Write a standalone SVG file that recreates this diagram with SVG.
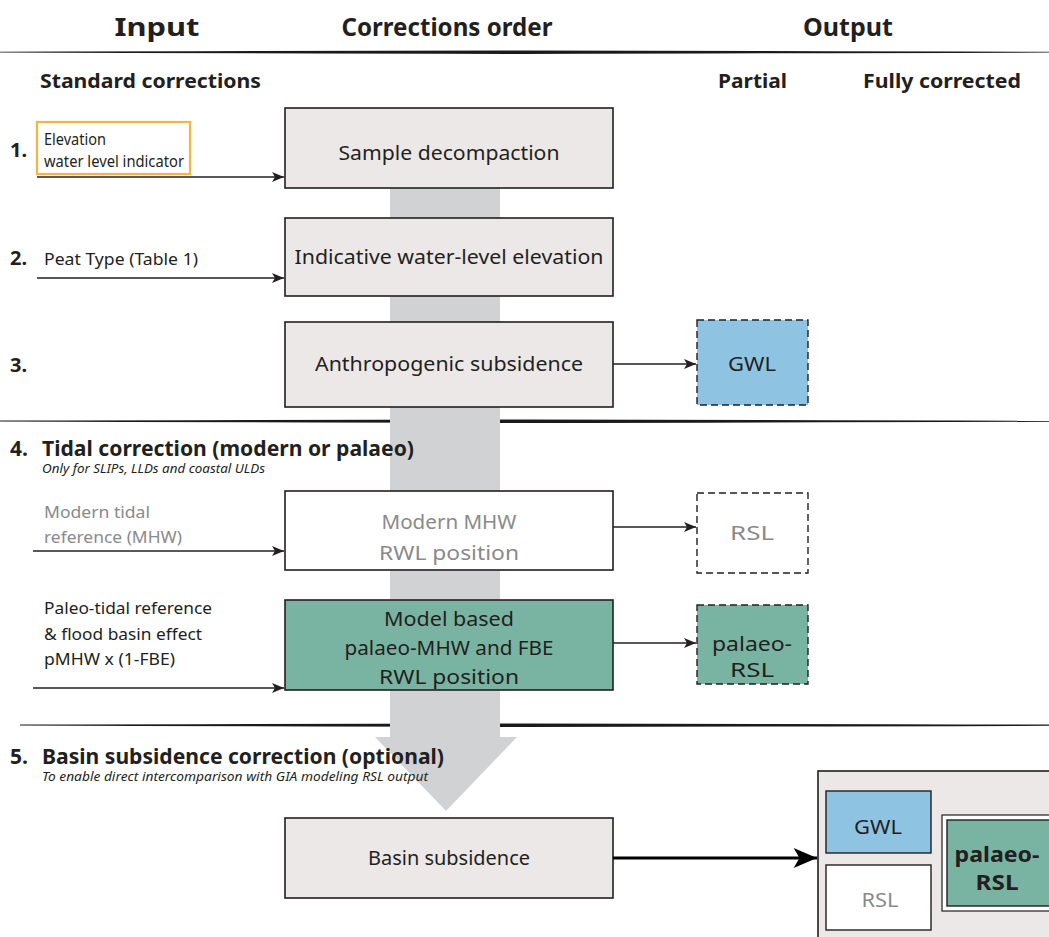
<svg xmlns="http://www.w3.org/2000/svg" width="1049" height="937" viewBox="0 0 1049 937">
<defs>
<style>
text{font-family:"Noto Sans","Open Sans","Liberation Sans",sans-serif;fill:#231f20}
.h{font-size:25px;font-weight:bold}
.sh{font-size:20px;font-weight:bold}
.num{font-size:20px;font-weight:bold}
.sec{font-size:21px;font-weight:bold}
.it{font-size:12px;font-style:italic}
.lab{font-size:16px}
.box{font-size:20px}
.g{fill:#8a8a8a}
.b{fill:#ebe8e7;stroke:#231f20;stroke-width:1.6}
.w{fill:#ffffff;stroke:#231f20;stroke-width:1.6}
.t{fill:#79b4a2;stroke:#231f20;stroke-width:1.6}
.dash{stroke:#231f20;stroke-width:1.4;stroke-dasharray:7,4}
.c{stroke:#231f20;stroke-width:1.4;fill:none}
.rule{fill:#1a1a1a}
</style>
<marker id="ah" viewBox="0 0 12 10" refX="12" refY="5" markerWidth="12" markerHeight="10" markerUnits="userSpaceOnUse" orient="auto">
<path d="M0,0 L12,5 L0,10 L3,5 Z" fill="#231f20"/>
</marker>
<marker id="ahb" viewBox="0 0 14 12" refX="14" refY="6" markerWidth="24" markerHeight="20" markerUnits="userSpaceOnUse" orient="auto">
<path d="M0,0 L14,6 L0,12 L3.5,6 Z" fill="#000"/>
</marker>
</defs>

<!-- headers -->
<g id="headers">
<text class="h" x="157" y="36" text-anchor="middle" textLength="85" lengthAdjust="spacingAndGlyphs">Input</text>
<text class="h" x="447" y="36" text-anchor="middle" textLength="211" lengthAdjust="spacingAndGlyphs">Corrections order</text>
<text class="h" x="848" y="36" text-anchor="middle" textLength="90" lengthAdjust="spacingAndGlyphs">Output</text>
<text class="sh" x="40" y="88" textLength="221" lengthAdjust="spacingAndGlyphs">Standard corrections</text>
<text class="sh" x="718" y="88" textLength="69" lengthAdjust="spacingAndGlyphs">Partial</text>
<text class="sh" x="863" y="88" textLength="158" lengthAdjust="spacingAndGlyphs">Fully corrected</text>
</g>

<!-- rules -->
<g id="rules">
<path class="rule" d="M0,51.8 Q250,51 520,50.6 Q800,51 1049,51.8 L1049,52.6 Q800,53.2 520,54 Q250,53.4 0,52.6 Z"/>
<path class="rule" d="M0,420.6 Q250,419.8 520,419.6 Q800,420 1049,420.8 L1049,421.8 Q800,422.4 520,423 Q250,422.4 0,421.6 Z"/>
<path class="rule" d="M20,724.6 Q250,724 520,723.6 Q800,724 1049,724.6 L1049,725.8 Q800,726.6 520,727 Q250,726.4 20,725.6 Z"/>
</g>

<!-- big flow band -->
<g id="flow-band">
<path d="M390,188 L500,188 L500,737 L517,737 L446,811 L375,737 L390,737 Z" fill="#d1d2d4"/>
</g>

<!-- row labels -->
<g id="labels">
<text class="num" x="10" y="157">1.</text>
<text class="num" x="10" y="265">2.</text>
<text class="lab" x="44" y="265" textLength="154" lengthAdjust="spacingAndGlyphs">Peat Type (Table 1)</text>
<text class="num" x="10" y="372">3.</text>
<text class="sec" x="10" y="456">4.</text>
<text class="sec" x="42" y="456" textLength="372" lengthAdjust="spacingAndGlyphs">Tidal correction (modern or palaeo)</text>
<text class="it" x="42" y="473" textLength="223" lengthAdjust="spacingAndGlyphs">Only for SLIPs, LLDs and coastal ULDs</text>
<text class="lab g" x="44" y="518" font-size="18" textLength="106" lengthAdjust="spacingAndGlyphs">Modern tidal</text>
<text class="lab g" x="44" y="543" font-size="18" textLength="138" lengthAdjust="spacingAndGlyphs">reference (MHW)</text>
<text class="lab" x="44" y="614" font-size="18" textLength="168" lengthAdjust="spacingAndGlyphs">Paleo-tidal reference</text>
<text class="lab" x="44" y="640" font-size="18" textLength="158" lengthAdjust="spacingAndGlyphs">&amp; flood basin effect</text>
<text class="lab" x="44" y="665" font-size="18" textLength="131" lengthAdjust="spacingAndGlyphs">pMHW x (1-FBE)</text>
<text class="sec" x="10" y="764">5.</text>
<text class="sec" x="42" y="764" textLength="402" lengthAdjust="spacingAndGlyphs">Basin subsidence correction (optional)</text>
<text class="it" x="42" y="781" textLength="386" lengthAdjust="spacingAndGlyphs">To enable direct intercomparison with GIA modeling RSL output</text>
</g>

<!-- input node -->
<g id="input-elevation">
<rect x="37" y="122" width="153" height="52" fill="#ffffff" stroke="#f6b443" stroke-width="2.2"/>
<text class="lab" x="44" y="145" textLength="62" lengthAdjust="spacingAndGlyphs">Elevation</text>
<text class="lab" x="44" y="167" textLength="140" lengthAdjust="spacingAndGlyphs">water level indicator</text>
</g>

<!-- correction nodes -->
<g id="sample-decompaction">
<rect class="b" x="285" y="108" width="328" height="80"/>
<text class="box" x="449" y="160" text-anchor="middle" textLength="221" lengthAdjust="spacingAndGlyphs">Sample decompaction</text>
</g>
<g id="indicative-water-level">
<rect class="b" x="285" y="218" width="328" height="78"/>
<text class="box" x="449" y="264" text-anchor="middle" textLength="309" lengthAdjust="spacingAndGlyphs">Indicative water-level elevation</text>
</g>
<g id="anthropogenic-subsidence">
<rect class="b" x="285" y="322" width="328" height="85"/>
<text class="box" x="449" y="371" text-anchor="middle" textLength="268" lengthAdjust="spacingAndGlyphs">Anthropogenic subsidence</text>
</g>
<g id="modern-mhw">
<rect class="w" x="285" y="491" width="328" height="79"/>
<text class="box g" x="449" y="529" text-anchor="middle" textLength="135" lengthAdjust="spacingAndGlyphs">Modern MHW</text>
<text class="box g" x="449" y="560" text-anchor="middle" textLength="140" lengthAdjust="spacingAndGlyphs">RWL position</text>
</g>
<g id="model-based">
<rect class="t" x="285" y="600" width="328" height="90"/>
<text class="box" x="449" y="626" text-anchor="middle" textLength="130" lengthAdjust="spacingAndGlyphs">Model based</text>
<text class="box" x="449" y="655" text-anchor="middle" textLength="209" lengthAdjust="spacingAndGlyphs">palaeo-MHW and FBE</text>
<text class="box" x="449" y="684" text-anchor="middle" textLength="140" lengthAdjust="spacingAndGlyphs">RWL position</text>
</g>
<g id="basin-subsidence">
<rect class="b" x="285" y="818" width="328" height="80"/>
<text class="box" x="449" y="865" text-anchor="middle" textLength="162" lengthAdjust="spacingAndGlyphs">Basin subsidence</text>
</g>

<!-- partial outputs -->
<g id="partial-gwl">
<rect class="dash" x="697" y="320" width="111" height="85" fill="#8ec4e1"/>
<text class="box" x="752" y="371" text-anchor="middle" textLength="48" lengthAdjust="spacingAndGlyphs">GWL</text>
</g>
<g id="partial-rsl">
<rect class="dash" x="697" y="493" width="111" height="80" fill="#ffffff"/>
<text class="box g" x="752" y="540" text-anchor="middle" textLength="44" lengthAdjust="spacingAndGlyphs">RSL</text>
</g>
<g id="partial-palaeo-rsl">
<rect class="dash" x="697" y="605" width="111" height="79" fill="#79b4a2"/>
<text class="box" x="752" y="651" text-anchor="middle" textLength="80" lengthAdjust="spacingAndGlyphs">palaeo-</text>
<text class="box" x="752" y="677" text-anchor="middle" textLength="44" lengthAdjust="spacingAndGlyphs">RSL</text>
</g>

<!-- fully corrected output -->
<g id="fully-corrected">
<rect x="818" y="771" width="240" height="180" fill="#ebe8e7" stroke="#231f20" stroke-width="1.6"/>
<rect x="826" y="791" width="105" height="62" fill="#8ec4e1" stroke="#231f20" stroke-width="1.4"/>
<text class="box" x="878" y="834" text-anchor="middle" textLength="48" lengthAdjust="spacingAndGlyphs">GWL</text>
<rect x="826" y="865" width="105" height="65" fill="#ffffff" stroke="#231f20" stroke-width="1.4"/>
<text class="box g" x="880" y="907" text-anchor="middle" textLength="37" lengthAdjust="spacingAndGlyphs">RSL</text>
<rect x="942" y="815" width="120" height="96" fill="#ffffff" stroke="#231f20" stroke-width="1.2"/>
<rect x="947" y="820" width="115" height="86" fill="#79b4a2" stroke="#231f20" stroke-width="1.4"/>
<text x="997" y="862" text-anchor="middle" font-size="21" font-weight="bold" textLength="85" lengthAdjust="spacingAndGlyphs">palaeo-</text>
<text x="997" y="890" text-anchor="middle" font-size="21" font-weight="bold" textLength="43" lengthAdjust="spacingAndGlyphs">RSL</text>
</g>

<!-- connectors -->
<g id="connectors">
<line class="c" x1="37" y1="177" x2="284" y2="177" marker-end="url(#ah)"/>
<line class="c" x1="37" y1="278" x2="284" y2="278" marker-end="url(#ah)"/>
<line class="c" x1="613" y1="364" x2="696" y2="364" marker-end="url(#ah)"/>
<line class="c" x1="33" y1="551" x2="284" y2="551" marker-end="url(#ah)"/>
<line class="c" x1="613" y1="527" x2="696" y2="527" marker-end="url(#ah)"/>
<line class="c" x1="33" y1="688" x2="284" y2="688" marker-end="url(#ah)"/>
<line class="c" x1="613" y1="643" x2="696" y2="643" marker-end="url(#ah)"/>
<line x1="613" y1="858" x2="817" y2="858" stroke="#000" stroke-width="3" marker-end="url(#ahb)"/>
</g>
</svg>
